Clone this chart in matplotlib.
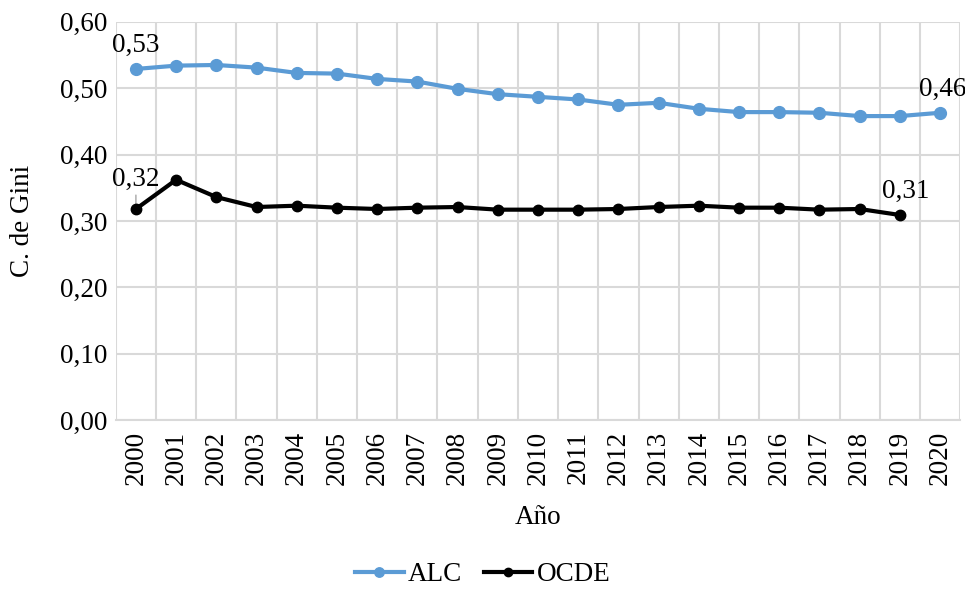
import matplotlib
matplotlib.use("Agg")
import matplotlib.pyplot as plt
from matplotlib.ticker import FuncFormatter

plt.rcParams['font.family'] = ['Liberation Serif', 'DejaVu Serif']

years = [str(y) for y in range(2000, 2021)]
alc = [0.529, 0.534, 0.535, 0.531, 0.523, 0.522, 0.514, 0.510, 0.499, 0.491,
       0.487, 0.483, 0.475, 0.478, 0.469, 0.464, 0.464, 0.463, 0.458, 0.458, 0.463]
ocde = [0.318, 0.362, 0.336, 0.321, 0.323, 0.320, 0.318, 0.320, 0.321, 0.317,
        0.317, 0.317, 0.318, 0.321, 0.323, 0.320, 0.320, 0.317, 0.318, 0.309]
yticks = [0.0, 0.1, 0.2, 0.3, 0.4, 0.5, 0.6]

FS = 19.5

fig = plt.figure(figsize=(9.65, 5.9), dpi=100)
ax = fig.add_axes([0.120, 0.288, 0.875, 0.675])

x_alc = list(range(len(alc)))
x_ocde = list(range(len(ocde)))
ax.plot(x_alc, alc, color='#5b9bd5', lw=3, marker='o', ms=8.5, label='ALC', zorder=3)
ax.plot(x_ocde, ocde, color='black', lw=3, marker='o', ms=7.5, label='OCDE', zorder=4)

ax.set_xlim(-0.5, len(years) - 0.5)
ax.set_ylim(0, 0.6)
ax.set_yticks(yticks)
ax.yaxis.set_major_formatter(FuncFormatter(lambda v, p: f"{v:.2f}".replace('.', ',')))
ax.set_xticks(range(len(years)))
ax.set_xticklabels(years, rotation=90, fontsize=FS)
ax.tick_params(axis='y', labelsize=FS, length=0, pad=6)
ax.tick_params(axis='x', length=0, pad=8)

for xb in [i - 0.5 for i in range(len(years) + 1)]:
    ax.axvline(xb, color='#d9d9d9', lw=1.5, zorder=1)
ax.grid(axis='y', color='#d9d9d9', lw=1.5, zorder=1)
ax.set_axisbelow(True)
for s in ['top', 'right', 'left']:
    ax.spines[s].set_visible(False)
ax.spines['bottom'].set_color('#d9d9d9')
ax.spines['bottom'].set_linewidth(1.5)

ax.set_ylabel('C. de Gini', fontsize=FS, labelpad=18)
ax.set_xlabel('Año', fontsize=FS, labelpad=14)

def fmt(v):
    return f"{v:.2f}".replace('.', ',')

ax.annotate(fmt(alc[0]), (0, alc[0]), xytext=(0, 8), textcoords='offset points',
            ha='center', va='bottom', fontsize=FS)
ax.annotate(fmt(alc[-1]), (len(alc) - 1, alc[-1]), xytext=(2, 8), textcoords='offset points',
            ha='center', va='bottom', fontsize=FS)
ax.annotate(fmt(ocde[0]), (0, ocde[0]), xytext=(0, 12), textcoords='offset points',
            ha='center', va='bottom', fontsize=FS,
            arrowprops=dict(arrowstyle='-', color='#a6a6a6', lw=1, shrinkA=0, shrinkB=3))
ax.annotate(fmt(ocde[-1]), (len(ocde) - 1, ocde[-1]), xytext=(4, 8), textcoords='offset points',
            ha='center', va='bottom', fontsize=FS)

fig.legend(loc='center', bbox_to_anchor=(0.5, 0.026), ncol=2, frameon=False,
           fontsize=FS, handlelength=1.8, columnspacing=0.8, handletextpad=0.15,
           markerscale=0.8)

fig.savefig('out.png', dpi=100)
